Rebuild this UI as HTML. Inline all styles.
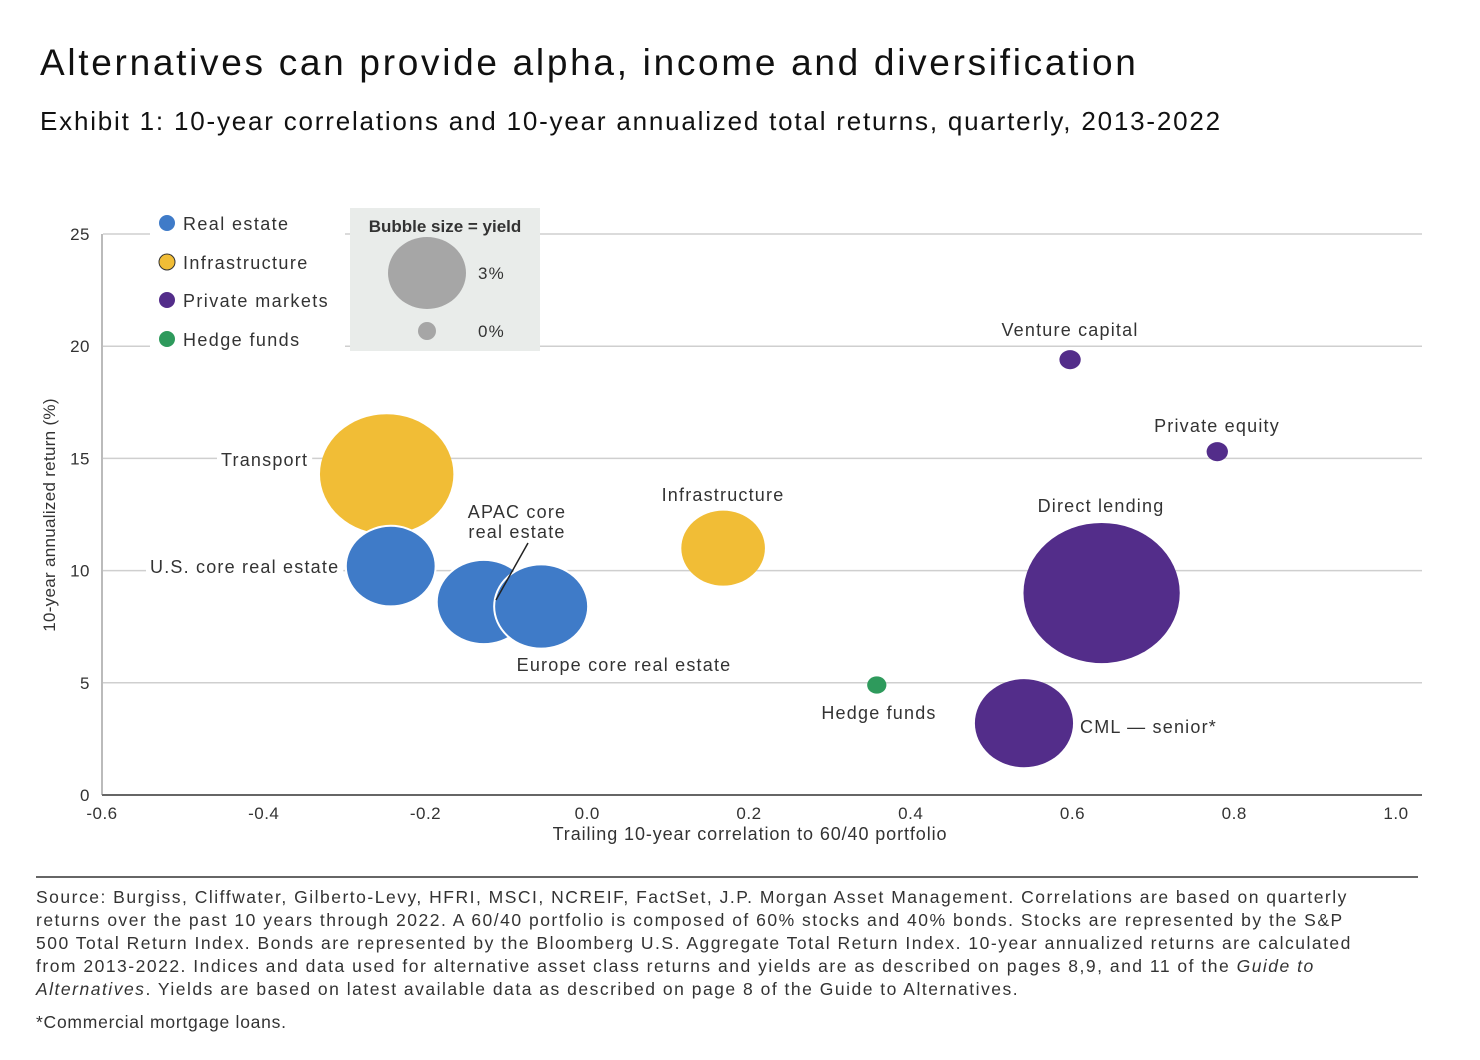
<!DOCTYPE html>
<html><head><meta charset="utf-8"><style>
body{margin:0;background:#fff;font-family:"Liberation Sans",sans-serif;}
#wrap{position:relative;width:1480px;height:1060px;overflow:hidden;}
.t{position:absolute;white-space:nowrap;color:#111;}
</style></head><body>
<div id="wrap">
<div class="t" style="left:40px;top:42px;font-size:37px;letter-spacing:2.7px;">Alternatives can provide alpha, income and diversification</div>
<div class="t" style="left:40px;top:106px;font-size:26px;letter-spacing:1.8px;">Exhibit 1: 10-year correlations and 10-year annualized total returns, quarterly, 2013-2022</div>
<svg id="chart" width="1480" height="1060" style="position:absolute;left:0;top:0" font-family="Liberation Sans, sans-serif"></svg>
<div class="t" style="left:36px;top:886px;font-size:17.5px;line-height:23px;color:#333;letter-spacing:1.5px;">Source: Burgiss, Cliffwater, Gilberto-Levy, HFRI, MSCI, NCREIF, FactSet, J.P. Morgan Asset Management. Correlations are based on quarterly<br>returns over the past 10 years through 2022. A 60/40 portfolio is composed of 60% stocks and 40% bonds. Stocks are represented by the S&amp;P<br>500 Total Return Index. Bonds are represented by the Bloomberg U.S. Aggregate Total Return Index. 10-year annualized returns are calculated<br>from 2013-2022. Indices and data used for alternative asset class returns and yields are as described on pages 8,9, and 11 of the <i>Guide to</i><br><i>Alternatives</i>. Yields are based on latest available data as described on page 8 of the Guide to Alternatives.</div>
<div class="t" style="left:36px;top:1012px;font-size:17.5px;color:#333;letter-spacing:0.75px;">*Commercial mortgage loans.</div>
</div>
<script>
const names=["Transport","U.S. core real estate","APAC core real estate","Europe core real estate","Infrastructure","Venture capital","Private equity","Direct lending","CML — senior*","Hedge funds"];
const correlations=[-0.248,-0.243,-0.128,-0.057,0.168,0.597,0.779,0.636,0.540,0.358];
const returns=[14.3,10.2,8.6,8.4,11.0,19.4,15.3,9.0,3.2,4.9];
const yields=[5.5,3.4,3.6,3.6,3.1,0.1,0.1,6.6,3.8,0.0];
const groups=["infra","re","re","re","infra","pm","pm","pm","pm","hf"];
const xTicks=[-0.6,-0.4,-0.2,0.0,0.2,0.4,0.6,0.8,1.0];
const yTicks=[0,5,10,15,20,25];
const colors={re:"#3f7bc8",infra:"#f1bd36",pm:"#532d8a",hf:"#2e9a5c"};
const svg=document.getElementById('chart');
const NS="http://www.w3.org/2000/svg";
const X=v=>102+(v+0.6)/1.6*1294;
const Y=v=>795-v/25*561;
const R=y=>9+9.7*y;
function el(tag,attrs,parent){const e=document.createElementNS(NS,tag);for(const k in attrs)e.setAttribute(k,attrs[k]);(parent||svg).appendChild(e);return e;}
function txt(x,y,s,attrs){const e=el('text',Object.assign({x:x,y:y,'font-size':18,fill:'#333','letter-spacing':1.2},attrs||{}));e.textContent=s;return e;}
yTicks.forEach(v=>{
 if(v>0){const g=el('line',{x1:103,x2:1422,y1:Y(v),y2:Y(v),stroke:'#cfcfcf','stroke-width':1.5});
 
 }
 const t=txt(90,Y(v)+6,String(v),{'text-anchor':'end','font-size':17,'letter-spacing':0.5});
 
 
});
xTicks.forEach(v=>{
 const t=txt(X(v),Y(0)+24,v.toFixed(1),{'text-anchor':'middle','font-size':17,'letter-spacing':0.5});
 
 
});
const ax=el('line',{x1:102,x2:1422,y1:795,y2:795,stroke:'#333','stroke-width':1.5});


const ay=el('line',{x1:102,x2:102,y1:234,y2:795,stroke:'#777','stroke-width':1});


const xt=txt(750,840,'Trailing 10-year correlation to 60/40 portfolio',{'text-anchor':'middle','letter-spacing':0.9});


const yt=txt(0,0,'10-year annualized return (%)',{'text-anchor':'middle','font-size':17,'letter-spacing':0.3,transform:'translate(55,515) rotate(-90)'});


const lb=el('rect',{x:350,y:208,width:190,height:143,fill:'#e9ecea'});


el('rect',{x:150,y:205,width:195,height:150,fill:'#fff'});
txt(445,232,'Bubble size = yield',{'text-anchor':'middle','font-size':17,'font-weight':'bold','letter-spacing':0});
el('ellipse',{cx:427,cy:273,rx:39,ry:36,fill:'#a6a6a6'});
el('circle',{cx:427,cy:331,r:9,fill:'#a6a6a6'});
txt(478,279,'3%',{'font-size':17});txt(478,337,'0%',{'font-size':17});
[['re','Real estate',223],['infra','Infrastructure',262],['pm','Private markets',300],['hf','Hedge funds',339]].forEach(([g,l,y])=>{
 const c=el('circle',{cx:167,cy:y,r:8,fill:colors[g],stroke:g==='infra'?'#333':'none','stroke-width':1});
 
 
 const t=txt(183,y+7,l,{'letter-spacing':1.4});
 
 
});
const labels=[["Transport",221,466,'start'],["U.S. core real estate",150,573,'start'],["APAC core",517,518,'middle'],["real estate",517,538,'middle'],["Europe core real estate",624,671,'middle'],["Infrastructure",723,501,'middle'],["Venture capital",1070,336,'middle'],["Private equity",1217,432,'middle'],["Direct lending",1101,512,'middle'],["CML — senior*",1080,733,'start'],["Hedge funds",879,719,'middle']];
labels.forEach(([s,x,y,a])=>{
 const t=txt(x,y,s,{'text-anchor':a});
 const b=t.getBBox();
 el('rect',{x:b.x-4,y:b.y,width:b.width+8,height:b.height,fill:'#fff'});
 svg.appendChild(t);
 
 
});
const lead=el('line',{x1:528,y1:543,x2:496,y2:600,stroke:'#222','stroke-width':1.5});
names.forEach((n,i)=>{
 const r=R(yields[i]);
 const c=el('ellipse',{cx:X(correlations[i]),cy:Y(returns[i]),rx:r*1.07,ry:r*0.96,fill:colors[groups[i]],stroke:'#fff','stroke-width':groups[i]==='re'?2:0});
 
 
});
svg.appendChild(lead);


const sep=el('line',{x1:36,x2:1418,y1:877,y2:877,stroke:'#333','stroke-width':1.5});


</script>
</body></html>
